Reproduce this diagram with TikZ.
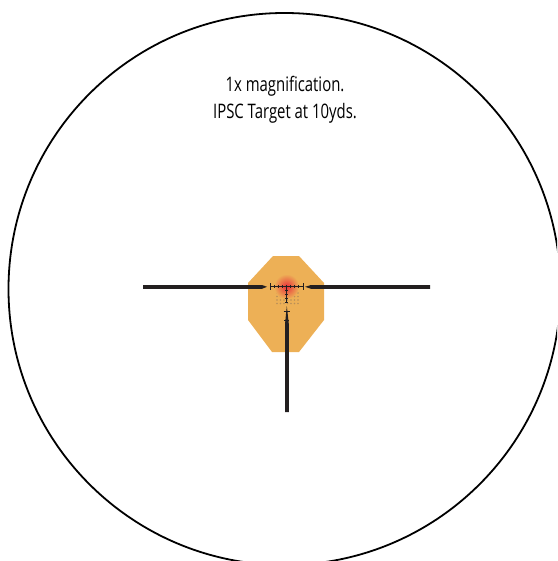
\documentclass[tikz,border=0pt]{standalone}
\usepackage{fontspec}
\setmainfont[FakeStretch=0.745]{Open Sans}
\usepackage{xcolor}
\definecolor{targetfill}{HTML}{EDB056}
\definecolor{dotfill}{HTML}{B98F58}
\definecolor{reticle}{HTML}{231F20}
\definecolor{dotred}{HTML}{E8303A}
\tikzset{
  lens/.style={draw=black,line width=1.8pt},
  target/.style={fill=targetfill,draw=none},
  post/.style={fill=reticle,draw=none},
  wire/.style={draw=reticle,line width=0.8pt},
  tick/.style={draw=reticle,line width=0.6pt},
  caption/.style={font=\fontsize{20}{26.5}\selectfont,align=center,text=black},
}
\begin{document}
\begin{tikzpicture}[x=1pt,y=-1pt]

\useasboundingbox (0,0) rectangle (557,561);
\clip (0,0) rectangle (557,561);

\coordinate (aim) at (286.5,286.5);

% target
\fill[target] (273,256) -- (299,256) -- (324,283) -- (324,320)
  -- (299,352) -- (272,352) -- (248,320) -- (248,283) -- cycle;

% dot grid
\foreach \x in {277,280.5,...,298}
  \foreach \y in {293,296.5,...,304}
    \fill[dotfill] (\x,\y) circle (0.8);

% glow
\shade[inner color=dotred,outer color=targetfill] (aim) circle (12.5);

% heavy posts
\fill[post] (143,285) -- (262,285) -- (267,286.8) -- (262,288.8) -- (143,288.8) -- cycle;
\fill[post] (430,285) -- (311,285) -- (305,286.8) -- (311,288.8) -- (430,288.8) -- cycle;
\fill[post] (285,412) -- (285,324) -- (286.8,306) -- (288.8,324) -- (288.8,412) -- cycle;

% fine reticle
\draw[wire] (270,286.5) -- (303,286.5);
\draw[wire] (286.5,286.5) -- (286.5,303);
\foreach \x in {274,278,...,301}
  \draw[tick] (\x,284.8) -- (\x,288.2);
\draw[tick] (270.5,283) -- (270.5,290);
\draw[tick] (303,283) -- (303,290);
\foreach \y in {290,294,...,303}
  \draw[tick] (285.2,\y) -- (287.8,\y);
\draw[tick] (283.5,311) -- (289.5,311);
\draw[tick] (284,320) -- (289,320);

% circle and caption
\draw[lens] (284.5,289) circle (276);
\node[caption] (caption) at (285,100) {1x magnification.\\IPSC Target at 10yds.};

\end{tikzpicture}
\end{document}
